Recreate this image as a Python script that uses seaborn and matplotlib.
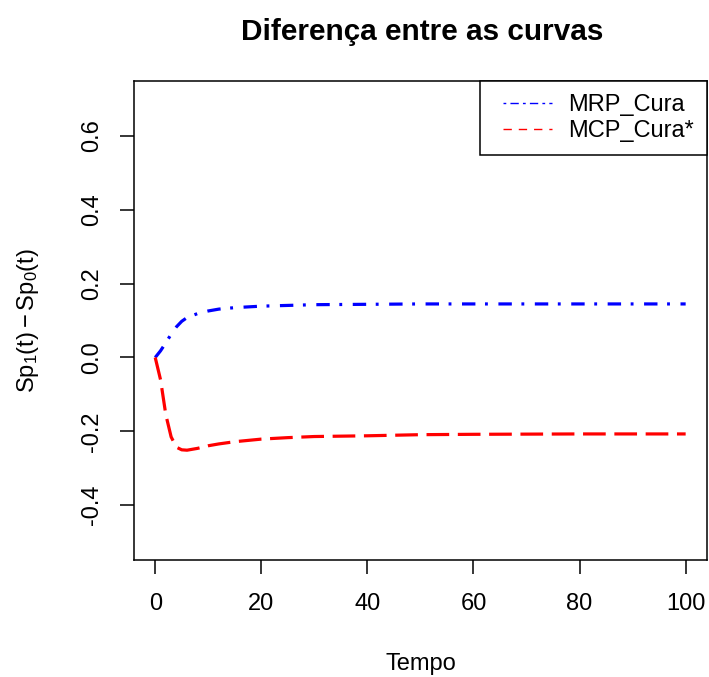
import matplotlib
matplotlib.use("Agg")
import matplotlib.pyplot as plt
from matplotlib.lines import Line2D
from matplotlib.legend_handler import HandlerLine2D
import numpy as np
import seaborn as sns
import pandas as pd

# Time grid and curve differences
tempo = [0, 1, 2, 3, 4, 5, 6, 8, 10, 12, 15, 20, 25, 30, 40, 50, 60, 80, 100]
mrp_cura = [0.0, 0.018, 0.040, 0.063, 0.083, 0.098, 0.108, 0.119, 0.126, 0.131,
            0.135, 0.139, 0.141, 0.143, 0.144, 0.145, 0.145, 0.145, 0.145]
mcp_cura = [0.0, -0.060, -0.155, -0.215, -0.243, -0.250, -0.251, -0.246, -0.239,
            -0.234, -0.228, -0.221, -0.217, -0.214, -0.212, -0.209, -0.208,
            -0.207, -0.207]
series_names = ["MRP_Cura", "MCP_Cura*"]
x_ticks = [0, 20, 40, 60, 80, 100]
y_ticks = [-0.4, -0.2, 0.0, 0.2, 0.4, 0.6]

df = pd.DataFrame({"Tempo": tempo, series_names[0]: mrp_cura, series_names[1]: mcp_cura})

sns.set_style("white")
plt.rcParams["font.family"] = ["Liberation Sans", "DejaVu Sans"]
plt.rcParams["mathtext.fontset"] = "custom"
plt.rcParams["mathtext.rm"] = "Liberation Sans"
plt.rcParams["mathtext.it"] = "Liberation Sans"
plt.rcParams["text.color"] = "black"
plt.rcParams["axes.labelcolor"] = "black"
plt.rcParams["xtick.color"] = "black"
plt.rcParams["ytick.color"] = "black"

FS = 17

fig = plt.figure(figsize=(7.09, 6.77), dpi=100)
ax = fig.add_axes([0.189, 0.173, 0.808, 0.707])

dash_blue = (0, (4.2, 3.0, 0.9, 3.3))
dash_red = (0, (7.1, 2.7))

sns.lineplot(data=df, x="Tempo", y=series_names[0], ax=ax, color="#0000FF",
             linewidth=2.3, legend=False)
sns.lineplot(data=df, x="Tempo", y=series_names[1], ax=ax, color="#FF0000",
             linewidth=2.3, legend=False)
ax.lines[0].set_linestyle(dash_blue)
ax.lines[1].set_linestyle(dash_red)

ax.set_xlim(-4, 104)
ax.set_ylim(-0.548, 0.748)
ax.set_xticks(x_ticks)
ax.set_xticklabels([str(v) for v in x_ticks])
ax.set_yticks(y_ticks)
ax.set_yticklabels([f"{v:.1f}" for v in y_ticks], rotation=90, va="center")

for s in ax.spines.values():
    s.set_visible(True)
    s.set_color("black")
    s.set_linewidth(1.1)

ax.tick_params(axis="both", direction="out", length=10, width=1.1, color="black",
               labelsize=FS, bottom=True, left=True)
ax.tick_params(axis="x", pad=14)
ax.tick_params(axis="y", pad=12)

ax.set_xlabel("Tempo", fontsize=FS, labelpad=27)
ax.set_ylabel(r"$\mathrm{Sp_1(t) - Sp_0(t)}$", fontsize=FS, labelpad=29)
fig.suptitle("Diferença entre as curvas", fontsize=21.4, fontweight="bold",
             x=0.595, y=0.974)


class OffsetLineHandler(HandlerLine2D):
    """Legend line sample that starts a little right of the handle box."""
    def __init__(self, offset_frac=0.18, **kw):
        super().__init__(**kw)
        self.offset_frac = offset_frac

    def get_xdata(self, legend, xdescent, ydescent, width, height, fontsize):
        x0 = -xdescent + self.offset_frac * width
        x1 = -xdescent + width
        xdata = np.array([x0, x1])
        return xdata, xdata


handles = [
    Line2D([], [], color="#0000FF", linewidth=1.0, linestyle=(0, (2.0, 3.0, 6.0, 3.0))),
    Line2D([], [], color="#FF0000", linewidth=1.0, linestyle=(0, (6.0, 5.0))),
]
leg = ax.legend(handles, series_names, loc="upper right", borderaxespad=0,
                fontsize=FS, frameon=True, fancybox=False, handlelength=2.5,
                handletextpad=0.7, borderpad=0.55, labelspacing=0.15,
                handler_map={h: OffsetLineHandler() for h in handles})
leg.get_frame().set_edgecolor("black")
leg.get_frame().set_linewidth(1.1)
leg.get_frame().set_alpha(1)

fig.savefig("out.png", dpi=100)
